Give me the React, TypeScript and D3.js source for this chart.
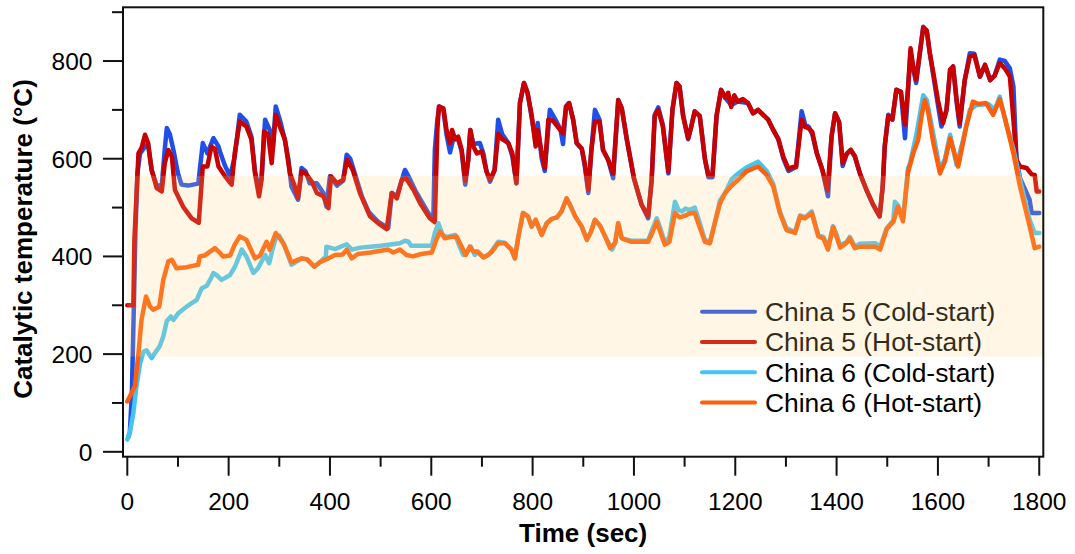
import React from "react";
import * as d3 from "d3";

type Pt = [number, number];

const china5Cold: Pt[] = [[2,30],[5,40],[9,120],[13,300],[16,450],[20,570],[25,610],[35,625],[41,630],[48,577],[58,545],[68,545],[74,620],[78,663],[84,650],[91,618],[100,570],[107,547],[120,545],[140,549],[149,632],[158,611],[170,642],[180,625],[184,611],[193,585],[203,564],[212,604],[222,690],[235,676],[245,645],[252,575],[260,536],[265,560],[272,680],[281,659],[287,620],[293,707],[301,680],[311,639],[318,598],[324,543],[337,516],[344,581],[352,574],[360,550],[374,550],[387,530],[393,502],[400,564],[414,545],[426,555],[433,608],[440,600],[449,570],[463,523],[476,492],[495,471],[515,458],[522,530],[532,523],[542,557],[548,577],[555,564],[568,536],[581,512],[594,489],[604,475],[607,618],[612,680],[616,707],[624,700],[630,650],[637,613],[643,640],[653,640],[660,615],[667,547],[673,598],[677,659],[683,630],[696,632],[703,610],[709,574],[716,553],[725,577],[732,680],[740,650],[752,632],[760,605],[768,550],[775,714],[783,755],[790,735],[798,685],[806,635],[810,673],[818,600],[824,575],[834,700],[845,680],[855,660],[860,630],[866,707],[872,714],[880,680],[887,632],[897,620],[903,585],[910,530],[916,618],[923,700],[932,680],[939,618],[949,598],[959,560],[969,720],[976,703],[986,639],[1000,560],[1015,506],[1028,478],[1035,557],[1041,690],[1048,705],[1057,670],[1068,570],[1076,700],[1084,755],[1090,748],[1097,690],[1107,640],[1113,665],[1120,697],[1130,687],[1140,600],[1147,562],[1155,562],[1163,687],[1172,741],[1180,725],[1192,710],[1205,717],[1225,714],[1235,693],[1245,700],[1265,680],[1275,659],[1285,640],[1295,600],[1305,575],[1320,583],[1331,697],[1338,670],[1345,665],[1352,650],[1361,611],[1372,577],[1383,523],[1390,645],[1397,693],[1405,675],[1412,585],[1420,610],[1428,618],[1436,605],[1446,570],[1459,536],[1472,506],[1485,482],[1491,543],[1495,625],[1502,690],[1510,680],[1518,741],[1527,737],[1535,642],[1541,740],[1546,820],[1551,785],[1557,755],[1564,812],[1571,870],[1578,862],[1584,816],[1591,770],[1600,710],[1607,666],[1617,700],[1624,782],[1630,789],[1637,715],[1643,666],[1653,761],[1663,816],[1672,815],[1683,768],[1693,792],[1703,761],[1712,770],[1722,803],[1732,800],[1742,785],[1749,748],[1755,600],[1762,560],[1775,530],[1781,516],[1785,489],[1800,489]];

const china5Hot: Pt[] = [[0,300],[12,300],[14,434],[22,611],[28,622],[35,649],[41,632],[48,577],[58,540],[68,533],[74,591],[81,618],[88,604],[94,536],[110,502],[127,478],[141,469],[149,584],[158,584],[166,625],[173,620],[180,584],[193,564],[206,547],[212,611],[222,676],[235,666],[245,639],[252,570],[260,523],[265,557],[270,656],[278,649],[285,591],[293,690],[301,666],[311,639],[321,570],[330,545],[337,520],[344,574],[352,570],[364,553],[374,530],[387,523],[397,499],[402,564],[414,550],[426,557],[434,598],[445,577],[459,530],[479,482],[499,465],[512,456],[522,530],[532,519],[542,557],[550,560],[565,536],[578,509],[597,478],[607,470],[612,659],[615,707],[624,703],[630,659],[637,632],[641,659],[647,640],[653,645],[660,618],[667,555],[673,598],[677,659],[683,625],[690,611],[700,615],[709,574],[716,557],[725,577],[732,650],[740,640],[752,632],[760,611],[768,550],[775,714],[783,755],[790,735],[798,690],[806,625],[810,659],[818,611],[824,581],[831,680],[840,678],[850,665],[860,652],[866,707],[872,714],[880,680],[887,632],[897,621],[903,590],[910,536],[916,618],[923,676],[932,676],[939,618],[949,598],[959,570],[969,720],[976,703],[986,639],[1000,560],[1015,506],[1028,482],[1035,557],[1041,687],[1048,700],[1057,666],[1068,574],[1076,700],[1084,755],[1090,748],[1097,687],[1107,642],[1113,665],[1120,697],[1130,687],[1140,600],[1147,566],[1155,566],[1163,687],[1172,741],[1180,725],[1186,735],[1192,706],[1198,730],[1205,717],[1215,722],[1225,714],[1235,693],[1245,700],[1255,690],[1265,680],[1275,659],[1285,640],[1295,604],[1305,579],[1313,583],[1320,583],[1331,680],[1338,665],[1345,662],[1352,655],[1361,611],[1372,577],[1382,535],[1390,645],[1397,693],[1405,675],[1412,591],[1420,610],[1428,618],[1436,605],[1446,570],[1459,536],[1472,506],[1485,482],[1491,543],[1495,625],[1502,687],[1510,680],[1518,741],[1527,737],[1535,670],[1541,745],[1546,826],[1551,790],[1557,761],[1564,816],[1571,868],[1578,862],[1584,816],[1591,775],[1600,720],[1610,673],[1617,700],[1624,782],[1630,789],[1637,720],[1643,673],[1653,761],[1663,809],[1672,812],[1683,768],[1693,792],[1703,761],[1712,770],[1722,796],[1732,785],[1742,768],[1749,680],[1755,598],[1762,584],[1775,581],[1785,568],[1791,567],[1795,533],[1800,533]];

const china6Cold: Pt[] = [[0,25],[5,40],[12,80],[18,134],[25,180],[32,205],[38,208],[48,192],[55,203],[64,216],[71,236],[78,268],[86,277],[91,270],[101,284],[117,297],[137,311],[147,335],[157,340],[165,355],[170,366],[176,362],[186,352],[203,362],[213,380],[226,414],[235,400],[249,366],[258,376],[272,403],[280,386],[288,420],[294,440],[300,442],[311,420],[324,383],[344,396],[355,394],[369,379],[380,388],[392,400],[393,420],[410,415],[433,425],[443,414],[460,418],[480,420],[500,422],[515,424],[538,427],[548,432],[555,430],[560,422],[580,422],[601,422],[607,448],[614,468],[622,445],[630,440],[647,444],[656,420],[663,403],[670,408],[678,420],[686,403],[692,410],[703,398],[715,405],[732,430],[745,428],[758,414],[765,396],[772,441],[781,489],[791,482],[798,461],[806,475],[818,444],[828,468],[838,477],[848,480],[857,492],[867,519],[874,505],[884,482],[897,461],[907,434],[915,450],[923,475],[933,463],[943,441],[957,414],[963,428],[969,468],[976,437],[995,432],[1028,432],[1036,455],[1045,478],[1052,458],[1061,428],[1070,440],[1081,512],[1088,495],[1095,492],[1102,498],[1110,495],[1120,500],[1128,475],[1140,434],[1150,430],[1160,470],[1170,515],[1180,530],[1193,558],[1206,570],[1222,582],[1245,594],[1262,575],[1275,548],[1288,492],[1301,458],[1318,450],[1328,484],[1338,480],[1351,492],[1364,443],[1374,440],[1383,417],[1393,462],[1400,445],[1407,422],[1420,430],[1426,440],[1436,420],[1446,426],[1476,427],[1486,420],[1499,458],[1512,474],[1515,512],[1521,505],[1531,478],[1541,580],[1545,591],[1558,652],[1571,730],[1578,720],[1591,650],[1604,577],[1614,600],[1624,649],[1637,587],[1650,640],[1663,700],[1676,710],[1700,712],[1712,700],[1722,727],[1735,670],[1749,620],[1762,557],[1781,475],[1791,448],[1800,448]];

const china6Hot: Pt[] = [[0,103],[15,134],[22,202],[28,270],[37,318],[45,297],[51,291],[63,297],[71,352],[81,390],[88,393],[97,376],[117,378],[140,383],[143,400],[153,402],[173,417],[183,407],[189,400],[203,402],[212,424],[222,441],[235,434],[252,396],[262,402],[275,430],[281,414],[293,448],[308,427],[324,388],[344,396],[355,394],[369,379],[380,388],[397,396],[410,403],[425,404],[433,414],[443,396],[455,405],[480,408],[515,414],[525,408],[538,414],[551,403],[564,400],[580,405],[601,408],[610,434],[617,451],[627,437],[640,440],[650,441],[660,420],[668,403],[676,420],[683,410],[690,410],[703,398],[712,403],[720,410],[732,427],[745,427],[758,414],[765,396],[772,441],[781,489],[791,482],[798,461],[806,475],[818,444],[828,468],[838,477],[848,480],[857,492],[867,519],[874,505],[884,482],[897,461],[907,434],[915,450],[923,475],[933,463],[943,441],[953,417],[963,428],[969,468],[976,437],[995,430],[1028,430],[1036,448],[1045,471],[1052,450],[1061,424],[1070,430],[1081,489],[1090,480],[1100,483],[1110,488],[1120,489],[1128,465],[1140,430],[1150,427],[1163,482],[1170,509],[1180,530],[1193,545],[1206,557],[1222,574],[1245,584],[1262,567],[1275,543],[1288,489],[1301,454],[1318,448],[1328,482],[1338,478],[1351,489],[1364,441],[1374,437],[1383,414],[1393,460],[1400,440],[1407,418],[1420,428],[1426,437],[1436,417],[1446,420],[1476,420],[1486,414],[1499,456],[1512,471],[1521,502],[1531,472],[1541,572],[1551,610],[1561,639],[1568,690],[1574,720],[1580,700],[1591,632],[1604,570],[1614,595],[1624,642],[1640,584],[1656,666],[1669,717],[1680,712],[1695,714],[1709,690],[1722,722],[1733,680],[1749,611],[1762,543],[1778,475],[1791,417],[1800,420]];

const seriesNames = ["China 5 (Cold-start)", "China 5 (Hot-start)", "China 6 (Cold-start)", "China 6 (Hot-start)"];
const seriesColors = ["#1f4fe6", "#c80000", "#45c3f2", "#ff5f0a"];
const seriesData = [china5Cold, china5Hot, china6Cold, china6Hot];

const xMajorTicks = [0, 200, 400, 600, 800, 1000, 1200, 1400, 1600, 1800];
const xMinorTicks = [100, 300, 500, 700, 900, 1100, 1300, 1500, 1700];
const yMajorTicks = [0, 200, 400, 600, 800];
const yMinorTicks = [100, 300, 500, 700, 900];
const bandValues = [195, 565];
const bandTimes = [0, 1808];

const W = 1075;
const H = 554;
const left = 123, right = 1043.3, top = 7.3, bottom = 456.7;

export default function App() {
  const x = d3.scaleLinear().domain([-8.5, 1808]).range([left, right]);
  const y = d3.scaleLinear().domain([-10, 910]).range([bottom, top]);
  const line = d3.line<Pt>().x((d) => x(d[0])).y((d) => y(d[1])).curve(d3.curveLinear);
  const font = "Arial, 'Liberation Sans', Helvetica, sans-serif";
  const legendY0 = 311.7;
  const legendStep = 30.3;

  return (
    <svg width={W} height={H} style={{ position: "absolute", left: 0, top: 0, background: "#fff" }} fontFamily={font}>
      <defs>
        <clipPath id="plotClip">
          <rect x={left} y={top} width={right - left} height={bottom - top} />
        </clipPath>
      </defs>
      <g clipPath="url(#plotClip)">
        {seriesData.map((d, i) => (
          <path key={i} d={line(d) || ""} fill="none" stroke={seriesColors[i]} strokeWidth={4.5} strokeLinejoin="round" strokeLinecap="round" />
        ))}
      </g>
      {seriesNames.map((name, i) => (
        <g key={name}>
          <line x1={702} x2={755} y1={legendY0 + i * legendStep} y2={legendY0 + i * legendStep} stroke={seriesColors[i]} strokeWidth={4} strokeLinecap="round" />
          <text x={765} y={legendY0 + i * legendStep} dy="0.35em" fontSize={26.4} fill="#000">{name}</text>
        </g>
      ))}
      <rect x={x(bandTimes[0])} y={y(bandValues[1])} width={x(bandTimes[1]) - x(bandTimes[0])} height={y(bandValues[0]) - y(bandValues[1])} fill="rgb(255,212,125)" fillOpacity={0.2} />
      <rect x={left} y={top} width={right - left} height={bottom - top} fill="none" stroke="#111" strokeWidth={2} />
      {yMajorTicks.map((t) => (
        <g key={"ym" + t}>
          <line x1={left - 20} x2={left} y1={y(t)} y2={y(t)} stroke="#111" strokeWidth={2} />
          <text x={92.5} y={y(t)} dy="0.36em" textAnchor="end" fontSize={24.5} fill="#000">{t}</text>
        </g>
      ))}
      {yMinorTicks.map((t) => (
        <line key={"yn" + t} x1={left - 11} x2={left} y1={y(t)} y2={y(t)} stroke="#111" strokeWidth={2} />
      ))}
      {xMajorTicks.map((t) => (
        <g key={"xm" + t}>
          <line x1={x(t)} x2={x(t)} y1={bottom} y2={bottom + 19} stroke="#111" strokeWidth={2} />
          <text x={x(t)} y={510} textAnchor="middle" fontSize={24.5} fill="#000">{t}</text>
        </g>
      ))}
      {xMinorTicks.map((t) => (
        <line key={"xn" + t} x1={x(t)} x2={x(t)} y1={bottom} y2={bottom + 10} stroke="#111" strokeWidth={2} />
      ))}
      <text x={(left + right) / 2} y={541.7} textAnchor="middle" fontSize={26} fontWeight="bold" fill="#000">Time (sec)</text>
      <text transform={`translate(32,239) rotate(-90)`} textAnchor="middle" fontSize={26} fontWeight="bold" fill="#000">Catalytic temperature (°C)</text>
    </svg>
  );
}
